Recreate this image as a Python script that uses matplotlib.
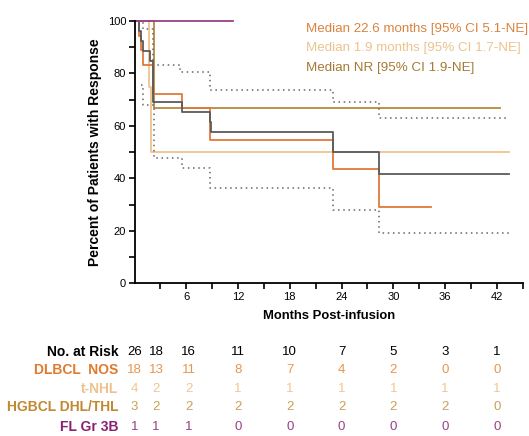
import numpy as np
import matplotlib
matplotlib.use("Agg")
import matplotlib.pyplot as plt
import matplotlib.transforms as mtransforms

plt.rcParams['font.family'] = ['Liberation Sans', 'DejaVu Sans']

# Kaplan-Meier steps (months, percent)
overall_t = [0, 0.5, 0.8, 1.0, 1.8, 2.1, 5.5, 8.7, 8.9, 23.0, 28.3, 43.4]
overall_s = [100, 96.2, 92.3, 88.5, 84.6, 69.2, 65.4, 61.5, 57.7, 50.0, 41.7, 41.7]
upper_t = [0.5, 1.0, 2.1, 5.3, 8.7, 23.0, 28.3, 43.4]
upper_s = [100, 97.0, 83.2, 80.6, 73.6, 69.2, 63.1, 63.1]
lower_t = [0.8, 1.0, 2.2, 5.5, 8.8, 23.0, 28.3, 43.5]
lower_s = [75.5, 68.0, 47.8, 44.0, 36.2, 27.9, 19.3, 19.3]
dlbcl_t = [0, 0.5, 0.8, 1.0, 2.1, 5.5, 8.8, 23.0, 28.3, 34.4]
dlbcl_s = [100, 94.4, 88.9, 83.3, 72.2, 66.7, 54.5, 43.6, 29.1, 29.1]
tnhl_t = [0, 1.7, 1.9, 43.4]
tnhl_s = [100, 75, 50, 50]
hgbcl_t = [0, 2.2, 42.3]
hgbcl_s = [100, 66.7, 66.7]
fl_t = [0, 11.4]
fl_s = [100, 100]

medians = ["Median 22.6 months [95% CI 5.1-NE]",
           "Median 1.9 months [95% CI 1.7-NE]",
           "Median NR [95% CI 1.9-NE]"]

risk_times = [0, 2.5, 6.3, 12, 18, 24, 30, 36, 42]
risk_labels = ["No. at Risk", "DLBCL  NOS", "t-NHL", "HGBCL DHL/THL", "FL Gr 3B"]
risk_all = [26, 18, 16, 11, 10, 7, 5, 3, 1]
risk_dlbcl = [18, 13, 11, 8, 7, 4, 2, 0, 0]
risk_tnhl = [4, 2, 2, 1, 1, 1, 1, 1, 1]
risk_hgbcl = [3, 2, 2, 2, 2, 2, 2, 2, 0]
risk_fl = [1, 1, 1, 0, 0, 0, 0, 0, 0]

c_gray = "#5a5a5a"
c_dlbcl = "#e07a3a"
c_tnhl = "#f0c48e"
c_hgbcl = "#b8893e"
c_fl = "#9a3f86"

fig = plt.figure(figsize=(5.29, 4.36), dpi=100)
ax = fig.add_axes([0.2543, 0.350, 0.734, 0.602])

kw = dict(where='post', linewidth=1.3, clip_on=False)
ax.step(tnhl_t, tnhl_s, color=c_tnhl, **kw)
ax.step(hgbcl_t, hgbcl_s, color=c_hgbcl, **kw)
ax.step(dlbcl_t, dlbcl_s, color=c_dlbcl, **kw)
ax.step(overall_t, overall_s, color=c_gray, **kw)
ax.step(upper_t, upper_s, where='post', color="#666666", linewidth=1.1,
        linestyle=(0, (1, 2.4)), clip_on=False)
ax.step(lower_t, lower_s, where='post', color="#666666", linewidth=1.1,
        linestyle=(0, (1, 2.4)), clip_on=False)
ax.step(fl_t, fl_s, color=c_fl, **kw)

ax.set_xlim(0, 45)
ax.set_ylim(0, 100)
ax.set_xticks(np.arange(6, 43, 6))
ax.set_xticks(np.arange(3, 46, 3), minor=True)
ax.set_yticks(np.arange(0, 101, 20))
ax.set_yticks(np.arange(10, 100, 20), minor=True)
ax.tick_params(axis='both', which='both', direction='out', length=4, width=1.2,
               labelsize=8, pad=2)
for s in ['top', 'right']:
    ax.spines[s].set_visible(False)
for s in ['left', 'bottom']:
    ax.spines[s].set_linewidth(1.3)

ax.set_xlabel("Months Post-infusion", fontsize=9.4, fontweight='bold', labelpad=6)
ax.set_ylabel("Percent of Patients with Response", fontsize=10, fontweight='bold',
              labelpad=4)

med_colors = ["#d9833e", "#ecc38f", "#a67a34"]
for i, (txt, col) in enumerate(zip(medians, med_colors)):
    fig.text(306 / 529, 1 - (29 + 19.5 * i) / 436, txt, color=col, fontsize=9.6,
             va='center', ha='left')

# risk table
trans = mtransforms.blended_transform_factory(ax.transData, fig.transFigure)
rows = [risk_all, risk_dlbcl, risk_tnhl, risk_hgbcl, risk_fl]
label_cols = ["black", "#e07a2c", "#ecc38f", "#c08a32", "#8c2070"]
num_cols = ["black", "#e8954f", "#efc793", "#c9a05a", "#9a3f86"]
row_y = [351.7, 370.0, 388.5, 407.3, 426.7]
for vals, lc, nc, yy, lab in zip(rows, label_cols, num_cols, row_y, risk_labels):
    fy = 1 - yy / 436
    fig.text(118.5 / 529, fy, lab, color=lc, fontsize=10, fontweight='bold',
             ha='right', va='center')
    for t, v in zip(risk_times, vals):
        ax.text(t, fy, str(v), transform=trans, color=nc, fontsize=9.5,
                ha='center', va='center')

fig.savefig("out.png", dpi=100)
